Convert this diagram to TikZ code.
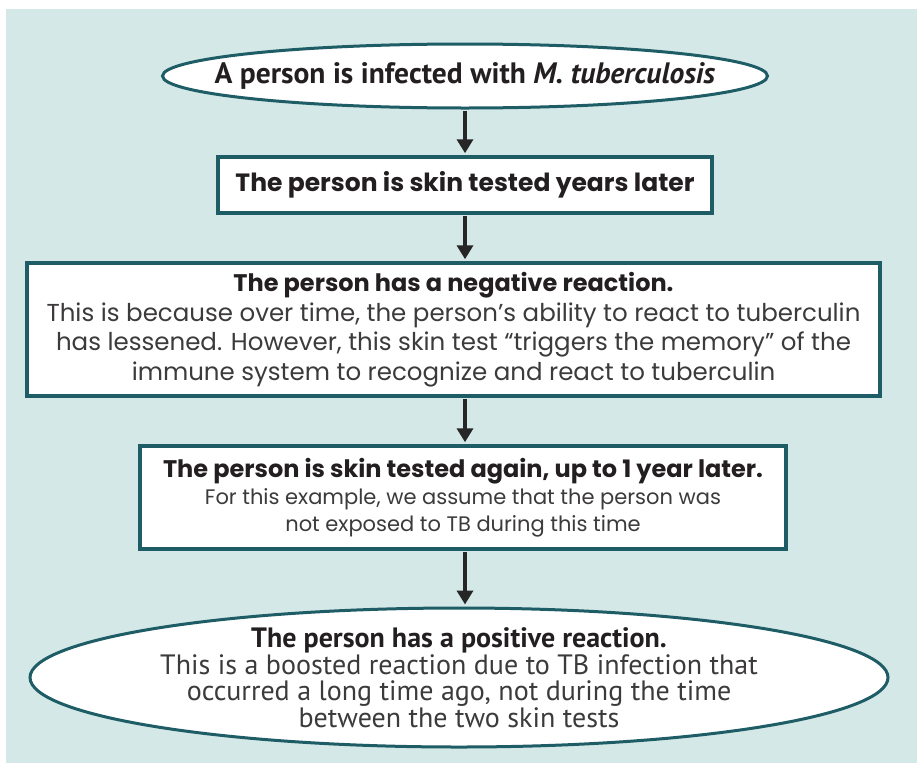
\documentclass[tikz,border=0pt]{standalone}
\usepackage{fontspec}
\setmainfont{Poppins}
\newfontfamily\narrowfont{PT Sans}
\usetikzlibrary{shapes.geometric,arrows.meta}
\definecolor{bgcyan}{HTML}{D4E9E7}
\definecolor{tealline}{HTML}{1E5D66}
\definecolor{txtdark}{HTML}{231F20}
\definecolor{txtbody}{HTML}{3C3A3A}
\tikzset{
  boxnode/.style={draw=tealline, line width=3.5pt, fill=white, rectangle, inner sep=0pt, align=center, text=txtbody},
  ovalnode/.style={draw=tealline, line width=3pt, fill=white, ellipse, inner sep=0pt},
  ovaltext/.style={align=center, text=txtbody, inner sep=0pt},
  flowarrow/.style={line width=4pt, black!85, -{Triangle[length=14pt,width=16pt]}, shorten >=2pt, shorten <=1pt}
}
\begin{document}
\begin{tikzpicture}[x=1pt,y=-1pt]
\useasboundingbox (0,0) rectangle (917,763);
\fill[white] (0,0) rectangle (917,763);
\fill[bgcyan] (6,9) rectangle (917,763);
\node[ovalnode, minimum width=605pt, minimum height=64pt,
  label={[ovaltext, font=\narrowfont\fontsize{29.5}{34}\selectfont\bfseries, text=txtdark]center:A person is infected with \textit{M. tuberculosis}}] (n1) at (465,76) {};
\node[boxnode, minimum width=494pt, minimum height=56pt, font=\fontsize{25}{30}\selectfont\bfseries, text=txtdark] (n2) at (465,185) {The person is skin tested years later};
\node[boxnode, minimum width=853pt, minimum height=133pt, font=\fontsize{24.5}{29.5}\selectfont] (n3) at (453.5,329.5) {{\fontsize{24}{29.5}\selectfont\bfseries\color{txtdark}The person has a negative reaction.}\\This is because over time, the person’s ability to react to tuberculin\\has lessened. However, this skin test “triggers the memory” of the\\immune system to recognize and react to tuberculin};
\node[boxnode, minimum width=646pt, minimum height=103pt, font=\fontsize{21}{27}\selectfont] (n4) at (463,497.5) {{\fontsize{24}{27}\selectfont\bfseries\color{txtdark}The person is skin tested again, up to 1 year later.}\\For this example, we assume that the person was\\not exposed to TB during this time};
\node[ovalnode, minimum width=858pt, minimum height=139pt,
  label={[ovaltext, font=\narrowfont\fontsize{28}{26.5}\selectfont]center:{\bfseries\color{txtdark}The person has a positive reaction.}\\This is a boosted reaction due to TB infection that\\occurred a long time ago, not during the time\\between the two skin tests}] (n5) at (459,677.5) {};
\draw[flowarrow] (n1) -- (n2);
\draw[flowarrow] (n2) -- (n2 |- n3.north);
\draw[flowarrow] (n3.south -| n2) -- (n2 |- n4.north);
\draw[flowarrow] (n4.south -| n2) -- (n2 |- n5.north);
\end{tikzpicture}
\end{document}
